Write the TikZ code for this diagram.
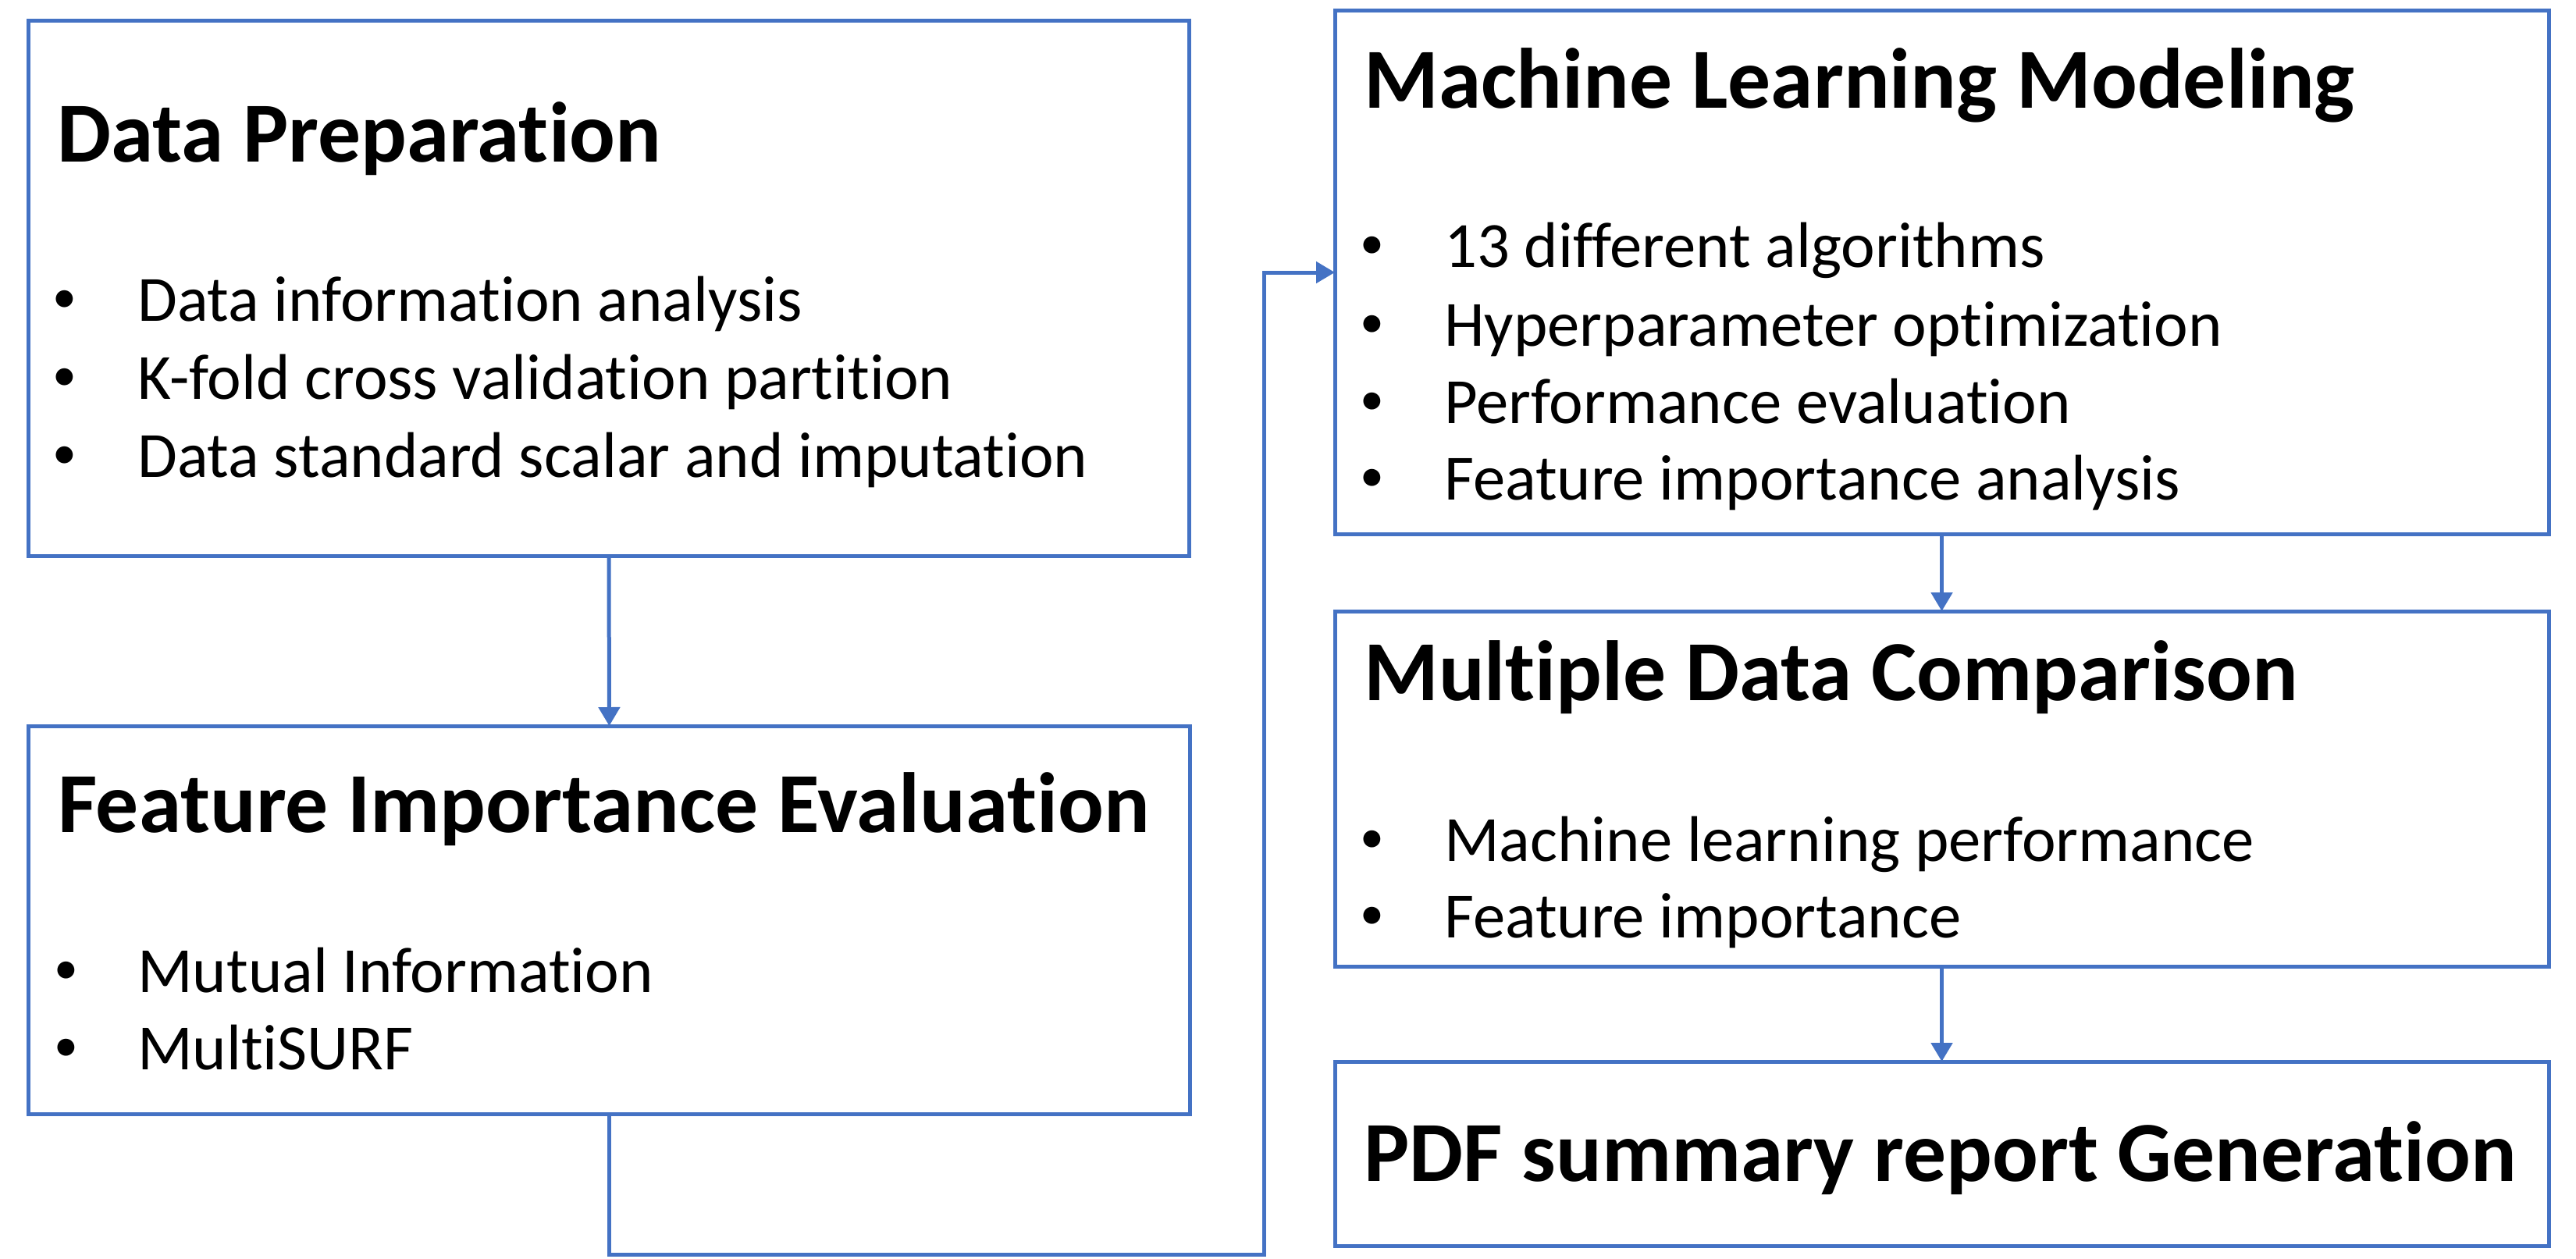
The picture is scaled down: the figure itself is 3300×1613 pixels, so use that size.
\documentclass[tikz,border=0pt]{standalone}
\usepackage{fontspec}
\setmainfont[Ligatures=NoCommon]{Carlito}
\usetikzlibrary{arrows.meta}
\definecolor{obl}{HTML}{4472C4}
\begin{document}
\begin{tikzpicture}[x=1bp,y=-1bp,
  box/.style={draw=obl,line width=5bp,inner sep=0pt,outer sep=0pt,rectangle},
  ttl/.style={anchor=base west,inner sep=0pt,font=\fontsize{110}{120}\selectfont\bfseries},
  itm/.style={anchor=base west,inner sep=0pt,font=\fontsize{83}{90}\selectfont},
  bul/.style={anchor=center,inner sep=0pt,font=\fontsize{62}{70}\selectfont},
  conn/.style={draw=obl,line width=5bp,-{Triangle[length=24bp,width=27bp]}}]
\useasboundingbox (0,0) rectangle (3300,1613);
% boxes
\node[box,minimum width=1486bp,minimum height=685bp] (dp) at (780,369.5) {};
\node[box,minimum width=1487bp,minimum height=497bp] (fie) at (780.5,1178.5) {};
\node[box,minimum width=1555bp,minimum height=670bp] (mlm) at (2487.5,349) {};
\node[box,minimum width=1555bp,minimum height=455bp] (mdc) at (2487.5,1010.5) {};
\node[box,minimum width=1555bp,minimum height=236bp] (pdf) at (2487.5,1478) {};
% Data Preparation
\node[ttl] (t1) at (73,207) {Data Preparation};
\node[bul] (b11) at (83,386) {•};
\node[itm] (i11) at (176,411) {Data information analysis};
\node[bul] (b12) at (83,486) {•};
\node[itm] (i12) at (176,511) {K-fold cross validation partition};
\node[bul] (b13) at (83,586) {•};
\node[itm] (i13) at (176,611) {Data standard scalar and imputation};
% Feature Importance Evaluation
\node[ttl] (t2) at (74,1066) {Feature Importance Evaluation};
\node[bul] (b21) at (85,1246) {•};
\node[itm] (i21) at (176,1271) {Mutual Information};
\node[bul] (b22) at (85,1345) {•};
\node[itm] (i22) at (176,1370) {MultiSURF};
% Machine Learning Modeling
\node[ttl] (t3) at (1747,138) {Machine Learning Modeling};
\node[bul] (b31) at (1758,317) {•};
\node[itm] (i31) at (1850,342) {13 different algorithms};
\node[bul] (b32) at (1758,418) {•};
\node[itm] (i32) at (1850,443) {Hyperparameter optimization};
\node[bul] (b33) at (1758,517) {•};
\node[itm] (i33) at (1850,542) {Performance evaluation};
\node[bul] (b34) at (1758,615) {•};
\node[itm] (i34) at (1850,640) {Feature importance analysis};
% Multiple Data Comparison
\node[ttl] (t4) at (1747,897) {Multiple Data Comparison};
\node[bul] (b41) at (1758,1078) {•};
\node[itm] (i41) at (1850,1103) {Machine learning performance};
\node[bul] (b42) at (1758,1176) {•};
\node[itm] (i42) at (1850,1201) {Feature importance};
% PDF
\node[ttl] (t5) at (1747,1513) {PDF summary report Generation};
% connectors
\coordinate (c1) at (780.5,1607);
\coordinate (c2) at (1619,1607);
\coordinate (c3) at (1619,349);
\draw[conn] (dp.south) -- (fie.north);
\draw[conn] (fie.south) -- (c1) -- (c2) -- (c3) -- (mlm.west);
\draw[conn] (mlm.south) -- (mdc.north);
\draw[conn] (mdc.south) -- (pdf.north);
\end{tikzpicture}
\end{document}
